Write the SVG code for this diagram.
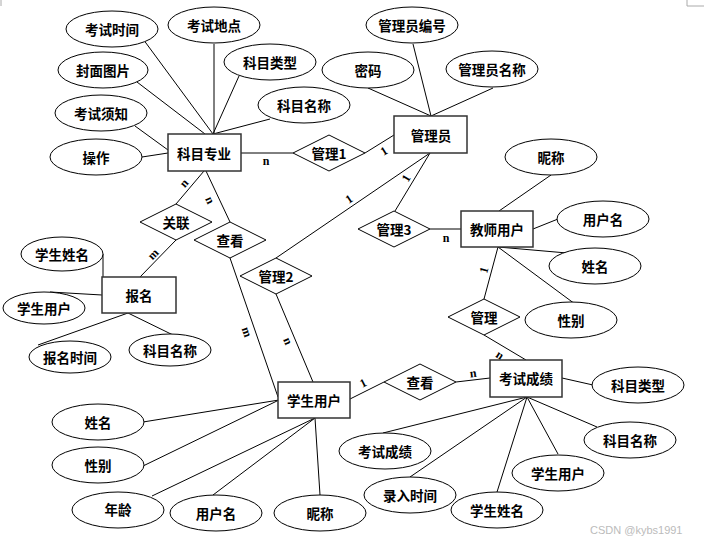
<svg xmlns="http://www.w3.org/2000/svg" width="704" height="543" viewBox="0 0 704 543">
<style>
.e{fill:#fff;stroke:#000;stroke-width:1}
.r{fill:#fff;stroke:#333;stroke-width:1.5}
.d{fill:#fff;stroke:#000;stroke-width:1}
.t{font-family:"Noto Sans CJK SC","Liberation Sans",sans-serif;font-size:13.5px;font-weight:bold;text-anchor:middle;dominant-baseline:central;fill:#000}
.l{font-family:"Liberation Serif",serif;font-size:12px;font-weight:bold;text-anchor:middle;dominant-baseline:central;fill:#000}
.c line{stroke:#000;stroke-width:1}
.w{font-family:"Liberation Sans",sans-serif;font-size:11px;fill:#bbb}
</style>
<rect x="0" y="0" width="704" height="543" fill="#fff"/>
<g id="marks" stroke="#aaa" stroke-width="1">
<line x1="1" y1="0" x2="1" y2="6"/>
<line x1="687" y1="0" x2="687" y2="6"/>
<line x1="687" y1="6" x2="704" y2="6"/>
</g>
<g id="connectors" class="c">
<line x1="143" y1="39" x2="213" y2="134"/>
<line x1="214" y1="44" x2="214" y2="134"/>
<line x1="239" y1="76" x2="213" y2="134"/>
<line x1="270" y1="119" x2="213" y2="134"/>
<line x1="137" y1="82" x2="205" y2="134"/>
<line x1="135" y1="126" x2="168" y2="150"/>
<line x1="142" y1="157" x2="168" y2="153"/>
<line x1="241" y1="153" x2="293" y2="153"/>
<line x1="365" y1="153" x2="394" y2="135"/>
<line x1="413" y1="44" x2="431" y2="116"/>
<line x1="368" y1="88" x2="431" y2="116"/>
<line x1="493" y1="88" x2="431" y2="116"/>
<line x1="430" y1="153" x2="395" y2="211"/>
<line x1="430" y1="153" x2="276" y2="258"/>
<line x1="430" y1="229" x2="461" y2="229"/>
<line x1="551" y1="175" x2="499" y2="211"/>
<line x1="533" y1="229" x2="558" y2="219"/>
<line x1="498" y1="247" x2="567" y2="253"/>
<line x1="498" y1="247" x2="575" y2="304"/>
<line x1="498" y1="247" x2="484" y2="299"/>
<line x1="484" y1="335" x2="526" y2="360"/>
<line x1="204" y1="171" x2="176" y2="204"/>
<line x1="206" y1="171" x2="230" y2="222"/>
<line x1="176" y1="240" x2="140" y2="277"/>
<line x1="230" y1="258" x2="278" y2="397"/>
<line x1="276" y1="294" x2="313" y2="382"/>
<line x1="103" y1="254" x2="103" y2="277"/>
<line x1="50" y1="292" x2="102" y2="295"/>
<line x1="128" y1="313" x2="38" y2="345"/>
<line x1="128" y1="313" x2="173" y2="335"/>
<line x1="143" y1="422" x2="279" y2="400"/>
<line x1="143" y1="466" x2="279" y2="400"/>
<line x1="152" y1="496" x2="315" y2="418"/>
<line x1="213" y1="495" x2="315" y2="418"/>
<line x1="315" y1="418" x2="320" y2="495"/>
<line x1="350" y1="399" x2="384" y2="382"/>
<line x1="456" y1="382" x2="490" y2="378"/>
<line x1="562" y1="378" x2="593" y2="385"/>
<line x1="527" y1="397" x2="597" y2="427"/>
<line x1="527" y1="397" x2="558" y2="454"/>
<line x1="527" y1="397" x2="497" y2="492"/>
<line x1="527" y1="397" x2="410" y2="477"/>
<line x1="527" y1="397" x2="383" y2="433"/>
<g id="cardinalities">
<text class="l" x="266" y="161">n</text>
<text class="l" transform="translate(384,151) rotate(-32)">1</text>
<text class="l" transform="translate(406,178) rotate(-59)">1</text>
<text class="l" transform="translate(349,199) rotate(-34)">1</text>
<text class="l" x="446" y="238">n</text>
<text class="l" transform="translate(484,270) rotate(-75)">1</text>
<text class="l" transform="translate(500,355) rotate(33)">n</text>
<text class="l" transform="translate(184,183) rotate(-49)">n</text>
<text class="l" transform="translate(210,200) rotate(65)">n</text>
<text class="l" transform="translate(153,254) rotate(-46)">m</text>
<text class="l" transform="translate(247,332) rotate(71)">m</text>
<text class="l" transform="translate(288,341) rotate(67)">n</text>
<text class="l" transform="translate(363,383) rotate(-27)">1</text>
<text class="l" transform="translate(473,373) rotate(-7)">n</text>
</g>
</g>
<g id="attr-kaoshishijian"><ellipse class="e" cx="112" cy="29" rx="46" ry="18"/><text class="t" x="112" y="29">考试时间</text></g>
<g id="attr-kaoshididian"><ellipse class="e" cx="214" cy="25" rx="46" ry="18"/><text class="t" x="214" y="25">考试地点</text></g>
<g id="attr-fengmiantupian"><ellipse class="e" cx="103" cy="70" rx="45" ry="18"/><text class="t" x="103" y="70">封面图片</text></g>
<g id="attr-kemuleixing1"><ellipse class="e" cx="270" cy="62" rx="46" ry="18"/><text class="t" x="270" y="62">科目类型</text></g>
<g id="attr-kemumingcheng1"><ellipse class="e" cx="304" cy="105" rx="46" ry="18"/><text class="t" x="304" y="105">科目名称</text></g>
<g id="attr-kaoshixuzhi"><ellipse class="e" cx="101" cy="113" rx="46" ry="18"/><text class="t" x="101" y="113">考试须知</text></g>
<g id="attr-caozuo"><ellipse class="e" cx="96" cy="157" rx="46" ry="18"/><text class="t" x="96" y="157">操作</text></g>
<g id="entity-kemuzhuanye"><rect class="r" x="168" y="134" width="73" height="37"/><text class="t" x="204" y="153">科目专业</text></g>
<g id="rel-guanli1"><polygon class="d" points="293,153 329,135 365,153 329,171"/><text class="t" x="329" y="153">管理1</text></g>
<g id="attr-guanliyuanbianhao"><ellipse class="e" cx="412" cy="25" rx="46" ry="18"/><text class="t" x="412" y="25">管理员编号</text></g>
<g id="attr-mima"><ellipse class="e" cx="368" cy="70" rx="46" ry="18"/><text class="t" x="368" y="70">密码</text></g>
<g id="attr-guanliyuanmingcheng"><ellipse class="e" cx="492" cy="69" rx="46" ry="18"/><text class="t" x="492" y="69">管理员名称</text></g>
<g id="entity-guanliyuan"><rect class="r" x="394" y="116" width="73" height="37"/><text class="t" x="431" y="135">管理员</text></g>
<g id="attr-nicheng1"><ellipse class="e" cx="551" cy="157" rx="46" ry="18"/><text class="t" x="551" y="157">昵称</text></g>
<g id="rel-guanli3"><polygon class="d" points="358,229 394,211 430,229 394,247"/><text class="t" x="394" y="229">管理3</text></g>
<g id="entity-jiaoshiyonghu"><rect class="r" x="461" y="211" width="72" height="36"/><text class="t" x="497" y="229">教师用户</text></g>
<g id="attr-yonghuming1"><ellipse class="e" cx="603" cy="219" rx="46" ry="18"/><text class="t" x="603" y="219">用户名</text></g>
<g id="attr-xingming1"><ellipse class="e" cx="595" cy="266" rx="46" ry="18"/><text class="t" x="595" y="266">姓名</text></g>
<g id="attr-xingbie1"><ellipse class="e" cx="571" cy="320" rx="46" ry="18"/><text class="t" x="571" y="320">性别</text></g>
<g id="rel-guanli"><polygon class="d" points="448,317 484,299 520,317 484,335"/><text class="t" x="484" y="317">管理</text></g>
<g id="rel-guanlian"><polygon class="d" points="140,222 176,204 212,222 176,240"/><text class="t" x="176" y="222">关联</text></g>
<g id="rel-chakan1"><polygon class="d" points="194,240 230,222 266,240 230,258"/><text class="t" x="230" y="240">查看</text></g>
<g id="rel-guanli2"><polygon class="d" points="240,276 276,258 312,276 276,294"/><text class="t" x="276" y="276">管理2</text></g>
<g id="attr-xueshengxingming1"><ellipse class="e" cx="62" cy="254" rx="41" ry="17"/><text class="t" x="62" y="254">学生姓名</text></g>
<g id="attr-xueshengyonghu1"><ellipse class="e" cx="44" cy="308" rx="41" ry="16"/><text class="t" x="44" y="308">学生用户</text></g>
<g id="entity-baoming"><rect class="r" x="102" y="277" width="74" height="36"/><text class="t" x="139" y="295">报名</text></g>
<g id="attr-baomingshijian"><ellipse class="e" cx="70" cy="357" rx="41" ry="16"/><text class="t" x="70" y="357">报名时间</text></g>
<g id="attr-kemumingcheng2"><ellipse class="e" cx="170" cy="350" rx="41" ry="16"/><text class="t" x="170" y="350">科目名称</text></g>
<g id="entity-xueshengyonghu"><rect class="r" x="278" y="382" width="72" height="36"/><text class="t" x="314" y="400">学生用户</text></g>
<g id="attr-xingming2"><ellipse class="e" cx="98" cy="422" rx="46" ry="18"/><text class="t" x="98" y="422">姓名</text></g>
<g id="attr-xingbie2"><ellipse class="e" cx="98" cy="465" rx="46" ry="18"/><text class="t" x="98" y="465">性别</text></g>
<g id="attr-nianling"><ellipse class="e" cx="118" cy="510" rx="46" ry="18"/><text class="t" x="118" y="509">年龄</text></g>
<g id="attr-yonghuming2"><ellipse class="e" cx="216" cy="513" rx="46" ry="18"/><text class="t" x="216" y="513">用户名</text></g>
<g id="attr-nicheng2"><ellipse class="e" cx="320" cy="513" rx="46" ry="18"/><text class="t" x="320" y="513">昵称</text></g>
<g id="rel-chakan2"><polygon class="d" points="384,382 420,364 456,382 420,400"/><text class="t" x="420" y="382">查看</text></g>
<g id="entity-kaoshichengji"><rect class="r" x="490" y="360" width="72" height="37"/><text class="t" x="526" y="378">考试成绩</text></g>
<g id="attr-kemuleixing2"><ellipse class="e" cx="638" cy="385" rx="46" ry="18"/><text class="t" x="638" y="385">科目类型</text></g>
<g id="attr-kemumingcheng3"><ellipse class="e" cx="630" cy="440" rx="46" ry="18"/><text class="t" x="630" y="440">科目名称</text></g>
<g id="attr-xueshengyonghu2"><ellipse class="e" cx="558" cy="473" rx="46" ry="18"/><text class="t" x="558" y="473">学生用户</text></g>
<g id="attr-xueshengxingming2"><ellipse class="e" cx="497" cy="510" rx="46" ry="18"/><text class="t" x="497" y="510">学生姓名</text></g>
<g id="attr-lurushijian"><ellipse class="e" cx="410" cy="495" rx="46" ry="18"/><text class="t" x="410" y="495">录入时间</text></g>
<g id="attr-kaoshichengji"><ellipse class="e" cx="385" cy="451" rx="46" ry="18"/><text class="t" x="385" y="451">考试成绩</text></g>
<text class="w" x="590" y="534">CSDN @kybs1991</text>
</svg>
